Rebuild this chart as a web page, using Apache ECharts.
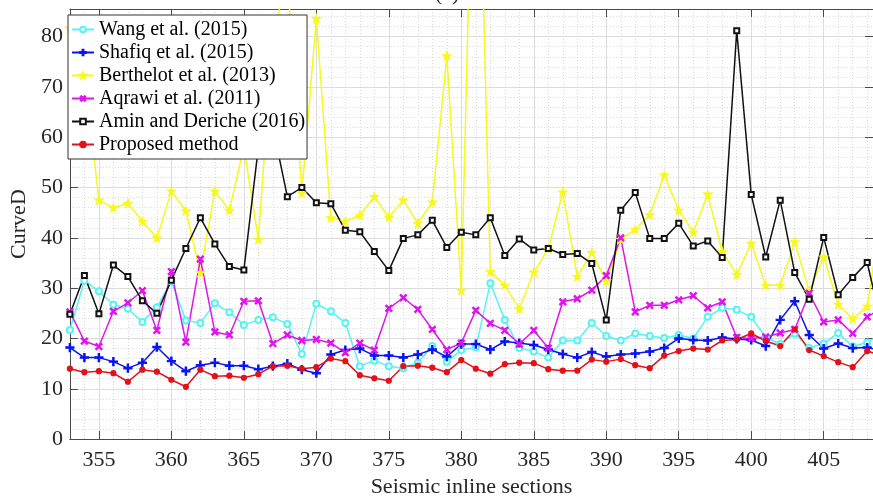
<!DOCTYPE html>
<html>
<head>
<meta charset="utf-8">
<script src="https://cdn.jsdelivr.net/npm/echarts@6/dist/echarts.min.js"></script>
<style>
html,body{margin:0;padding:0;background:#fff;}
#chart{width:873px;height:503px;}
</style>
</head>
<body>
<div id="chart"></div>
<script>
var xValues = [353,354,355,356,357,358,359,360,361,362,363,364,365,366,367,368,369,370,371,372,373,374,375,376,377,378,379,380,381,382,383,384,385,386,387,388,389,390,391,392,393,394,395,396,397,398,399,400,401,402,403,404,405,406,407,408,409];
var wang = [21.7,31.5,29.4,26.7,25.9,23.3,26.2,31.4,23.6,23.1,27.0,25.2,22.7,23.7,24.2,22.9,16.9,26.9,25.4,23.1,14.5,15.6,14.5,14.1,15.2,18.5,15.4,17.7,18.2,31.0,23.7,18.1,17.4,16.2,19.6,19.6,23.1,20.5,19.6,21.0,20.5,20.1,20.7,20.0,24.3,26.1,25.7,24.3,20.2,18.9,21.0,18.1,19.0,21.1,18.4,19.2,21.0];
var shafiq = [18.2,16.2,16.2,15.4,14.1,15.2,18.3,15.5,13.5,14.7,15.2,14.6,14.6,13.9,14.5,15.0,13.8,13.1,16.8,17.7,18.0,16.6,16.6,16.2,16.8,17.8,16.4,18.9,18.9,17.8,19.4,19.1,18.7,17.8,16.9,16.2,17.3,16.4,16.8,17.0,17.4,18.1,20.0,19.7,19.6,20.2,19.9,19.7,18.5,23.7,27.4,20.7,18.0,19.0,18.1,18.2,17.6];
var berthelot = [81.7,73.0,47.5,46.0,46.9,43.3,40.0,49.3,45.4,33.1,49.3,45.5,58.0,39.7,80.0,92.0,48.9,83.6,44.0,43.3,44.5,48.2,44.1,47.5,42.9,47.1,76.2,29.5,147.0,33.3,30.6,25.9,33.2,37.8,49.1,32.3,37.1,31.4,39.7,41.7,44.6,52.5,45.5,41.1,48.7,37.3,32.7,38.9,30.6,30.6,39.2,29.4,36.2,26.8,23.9,26.4,45.0];
var aqrawi = [25.3,19.5,18.4,25.4,27.1,29.5,21.6,33.3,19.3,35.8,21.3,20.7,27.4,27.5,19.0,20.7,19.6,19.8,19.1,17.2,19.1,17.7,26.0,28.1,25.8,21.8,17.8,19.1,25.6,23.0,21.6,18.9,21.6,18.1,27.3,27.9,29.6,32.5,40.0,25.3,26.6,26.6,27.7,28.5,26.1,27.3,20.2,20.0,20.3,21.1,21.8,29.0,23.3,23.7,21.0,24.3,26.0];
var amin = [24.8,32.5,24.9,34.6,32.3,27.5,25.0,31.6,37.9,44.0,38.8,34.3,33.6,58.0,62.0,48.2,50.0,47.0,46.8,41.5,41.2,37.3,33.5,39.9,40.6,43.5,38.1,41.1,40.6,44.0,36.5,39.8,37.6,37.9,36.7,36.9,34.9,23.7,45.5,49.0,39.9,39.9,42.9,38.4,39.4,36.1,81.2,48.6,36.2,47.5,33.1,27.8,40.1,28.7,32.1,35.1,22.6];
var proposed = [14.0,13.3,13.5,13.1,11.4,13.8,13.4,11.8,10.4,13.8,12.5,12.6,12.2,12.9,14.5,14.6,14.0,14.3,16.0,15.5,12.7,12.1,11.6,14.5,14.6,14.2,13.3,15.7,14.0,13.0,14.9,15.2,15.1,13.9,13.6,13.6,15.8,15.4,15.9,14.7,14.1,16.6,17.5,18.0,17.8,19.6,19.8,21.0,19.5,18.5,21.8,17.7,16.5,15.3,14.3,17.5,16.6];
var xTicks = [355,360,365,370,375,380,385,390,395,400,405];
var yTicks = [0,10,20,30,40,50,60,70,80];
var seriesNames = ['Wang et al. (2015)','Shafiq et al. (2015)','Berthelot et al. (2013)','Aqrawi et al. (2011)','Amin and Deriche (2016)','Proposed method'];

function pairs(arr){ return xValues.map(function(x,i){ return [x, arr[i]]; }); }

var PLUS = 'path://M-1,-0.16 L-0.16,-0.16 L-0.16,-1 L0.16,-1 L0.16,-0.16 L1,-0.16 L1,0.16 L0.16,0.16 L0.16,1 L-0.16,1 L-0.16,0.16 L-1,0.16 Z';
var STAR = 'path://M0,-1 L0.2245,-0.309 L0.951,-0.309 L0.363,0.118 L0.588,0.809 L0,0.382 L-0.588,0.809 L-0.363,0.118 L-0.951,-0.309 L-0.2245,-0.309 Z';
var FONT = 'Liberation Serif';
var AX = '#4a4a4a';

function mk(name, data, color, symbol, size, extra){
  var s = {
    name: name, type: 'line', data: pairs(data),
    xAxisIndex: 0, yAxisIndex: 0,
    symbol: symbol, symbolSize: size,
    lineStyle: {color: color, width: 1.5},
    itemStyle: {color: color, borderColor: color, borderWidth: 1.2},
    emphasis: {disabled: true},
    clip: true, z: 3
  };
  if (extra) for (var k in extra) s[k] = extra[k];
  return s;
}

var chart = echarts.init(document.getElementById('chart'), null, {renderer: 'canvas'});
chart.setOption({
  animation: false,
  backgroundColor: '#ffffff',
  title: {
    text: '(a)', left: 435, top: -17, padding: 0,
    textStyle: {fontFamily: FONT, fontSize: 22, fontWeight: 'normal', color: '#222'}
  },
  grid: {left: 62, top: 9, right: 0, bottom: 61, containLabel: false},
  legend: {
    orient: 'vertical', left: 68, top: 15,
    data: seriesNames,
    backgroundColor: '#ffffff', borderColor: '#333', borderWidth: 1,
    padding: [3, 2, 3, 3], itemGap: 0, itemWidth: 22, itemHeight: 7,
    textStyle: {fontFamily: FONT, fontSize: 20, color: '#000', lineHeight: 23},
    selectedMode: false
  },
  xAxis: [
    {
      type: 'value', min: 353, max: 408.4, interval: 1, position: 'bottom',
      name: 'Seismic inline sections', nameLocation: 'middle', nameGap: 34,
      nameTextStyle: {fontFamily: FONT, fontSize: 22, color: '#262626'},
      axisLine: {show: true, onZero: false, lineStyle: {color: AX, width: 1}},
      axisTick: {show: true, inside: true, length: 8, customValues: xTicks, lineStyle: {color: AX}},
      axisLabel: {show: true, customValues: xTicks, margin: 10, fontFamily: FONT, fontSize: 22, color: '#262626'},
      splitLine: {show: true, lineStyle: {color: '#dcdcdc', width: 1, type: 'solid'}},
      z: 2
    },
    {
      type: 'value', min: 353, max: 408.4, interval: 1, position: 'bottom',
      axisLine: {show: false}, axisTick: {show: false}, axisLabel: {show: false},
      splitLine: {show: true, lineStyle: {color: '#dadada', width: 1, type: [1, 2]}},
      z: 1
    },
    {
      type: 'value', min: 353, max: 408.4, interval: 1, position: 'top',
      axisLine: {show: true, onZero: false, lineStyle: {color: AX, width: 1}},
      axisTick: {show: true, inside: true, length: 8, customValues: xTicks, lineStyle: {color: AX}},
      axisLabel: {show: false}, splitLine: {show: false},
      z: 2
    }
  ],
  yAxis: [
    {
      type: 'value', min: 0, max: 85.5, interval: 10, position: 'left',
      name: 'CurveD', nameLocation: 'middle', nameGap: 30,
      nameTextStyle: {fontFamily: FONT, fontSize: 22, color: '#262626'},
      axisLine: {show: true, onZero: false, lineStyle: {color: AX, width: 1}},
      axisTick: {show: true, inside: true, length: 8, customValues: yTicks, lineStyle: {color: AX}},
      axisLabel: {show: true, customValues: yTicks, margin: 7, fontFamily: FONT, fontSize: 22, color: '#262626'},
      splitLine: {show: true, lineStyle: {color: '#dcdcdc', width: 1, type: 'solid'}},
      z: 2
    },
    {
      type: 'value', min: 0, max: 85.5, interval: 2, position: 'left',
      axisLine: {show: false}, axisTick: {show: false}, axisLabel: {show: false},
      splitLine: {show: true, lineStyle: {color: '#dadada', width: 1, type: [1, 2]}},
      z: 1
    },
    {
      type: 'value', min: 0, max: 85.5, interval: 10, position: 'right',
      axisLine: {show: true, onZero: false, lineStyle: {color: AX, width: 1}},
      axisTick: {show: true, inside: true, length: 8, customValues: yTicks, lineStyle: {color: AX}},
      axisLabel: {show: false}, splitLine: {show: false},
      z: 2
    }
  ],
  series: [
    mk(seriesNames[0], wang, '#55f3f3', 'emptyCircle', 6, {itemStyle: {color: '#55f3f3', borderColor: '#55f3f3', borderWidth: 1.2}}),
    mk(seriesNames[1], shafiq, '#0a14f0', PLUS, 8),
    mk(seriesNames[2], berthelot, '#f8f81a', STAR, 8),
    mk(seriesNames[3], aqrawi, '#e014ee', PLUS, 8, {symbolRotate: 45}),
    mk(seriesNames[4], amin, '#111111', 'emptyRect', 5, {itemStyle: {color: '#111111', borderColor: '#111111', borderWidth: 1.4}}),
    mk(seriesNames[5], proposed, '#e2111a', 'circle', 5)
  ]
});
</script>
</body>
</html>
